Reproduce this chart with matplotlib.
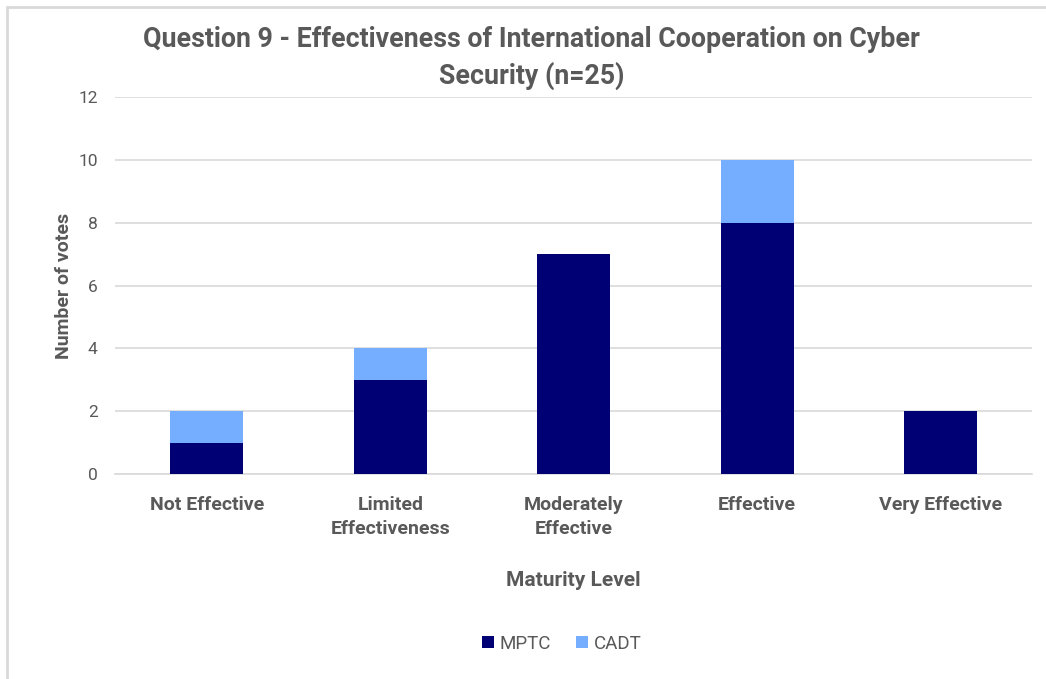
import matplotlib.pyplot as plt
from matplotlib.patches import Rectangle
import numpy as np

# Votes per maturity level, split by organisation
levels = ["Not Effective", "Limited\nEffectiveness", "Moderately\nEffective",
          "Effective", "Very Effective"]
mptc_votes = [1, 3, 7, 8, 2]
cadt_votes = [1, 1, 0, 2, 0]

MPTC_COLOR = "#000074"
CADT_COLOR = "#75AEFF"
TEXT_COLOR = "#595959"
GRID_COLOR = "#D9D9D9"

plt.rcParams["font.family"] = ["Roboto", "DejaVu Sans"]

fig = plt.figure(figsize=(10.46, 6.79), dpi=100)
ax = fig.add_axes([0.110, 0.302, 0.877, 0.555])

# chart frame
fig.patches.append(Rectangle((7 / 1046, -0.1), 1.2, 1 - 7 / 679 + 0.1,
                             transform=fig.transFigure, fill=False,
                             edgecolor=GRID_COLOR, linewidth=2))

x = np.arange(len(levels))
ax.bar(x, mptc_votes, width=0.4, color=MPTC_COLOR, label="MPTC", zorder=3)
ax.bar(x, cadt_votes, width=0.4, bottom=mptc_votes, color=CADT_COLOR,
       label="CADT", zorder=3)

ax.set_xlim(-0.5, 4.5)
ax.set_ylim(0, 12)
ax.set_yticks(range(0, 13, 2))
ax.yaxis.grid(True, color=GRID_COLOR, linewidth=1.2, zorder=0)
ax.set_axisbelow(True)
for side in ["top", "right", "left"]:
    ax.spines[side].set_visible(False)
ax.spines["bottom"].set_color(GRID_COLOR)
ax.spines["bottom"].set_linewidth(1.2)

ax.set_xticks(x)
ax.set_xticklabels(levels, fontsize=14, fontweight="bold", color=TEXT_COLOR,
                   linespacing=1.4)
ax.tick_params(axis="x", length=0, pad=16)
ax.tick_params(axis="y", length=0, pad=12.5, labelsize=12.5, labelcolor=TEXT_COLOR)

ax.set_xlabel("Maturity Level", fontsize=15, fontweight="bold",
              color=TEXT_COLOR, labelpad=24)
ax.set_ylabel("Number of votes", fontsize=14, fontweight="bold",
              color=TEXT_COLOR, labelpad=4)

fig.text(0.508, 0.914, "Question 9 - Effectiveness of International Cooperation on Cyber\nSecurity (n=25)",
         ha="center", va="center", fontsize=19.3, fontweight="bold",
         color=TEXT_COLOR, linespacing=1.4)

fig.legend(loc="center", bbox_to_anchor=(0.537, 0.052), ncol=2, frameon=False,
           fontsize=13.5, handlelength=0.65, handleheight=0.65, handletextpad=0.3,
           columnspacing=1.3, labelcolor=TEXT_COLOR)

fig.savefig("out.png", dpi=100)
